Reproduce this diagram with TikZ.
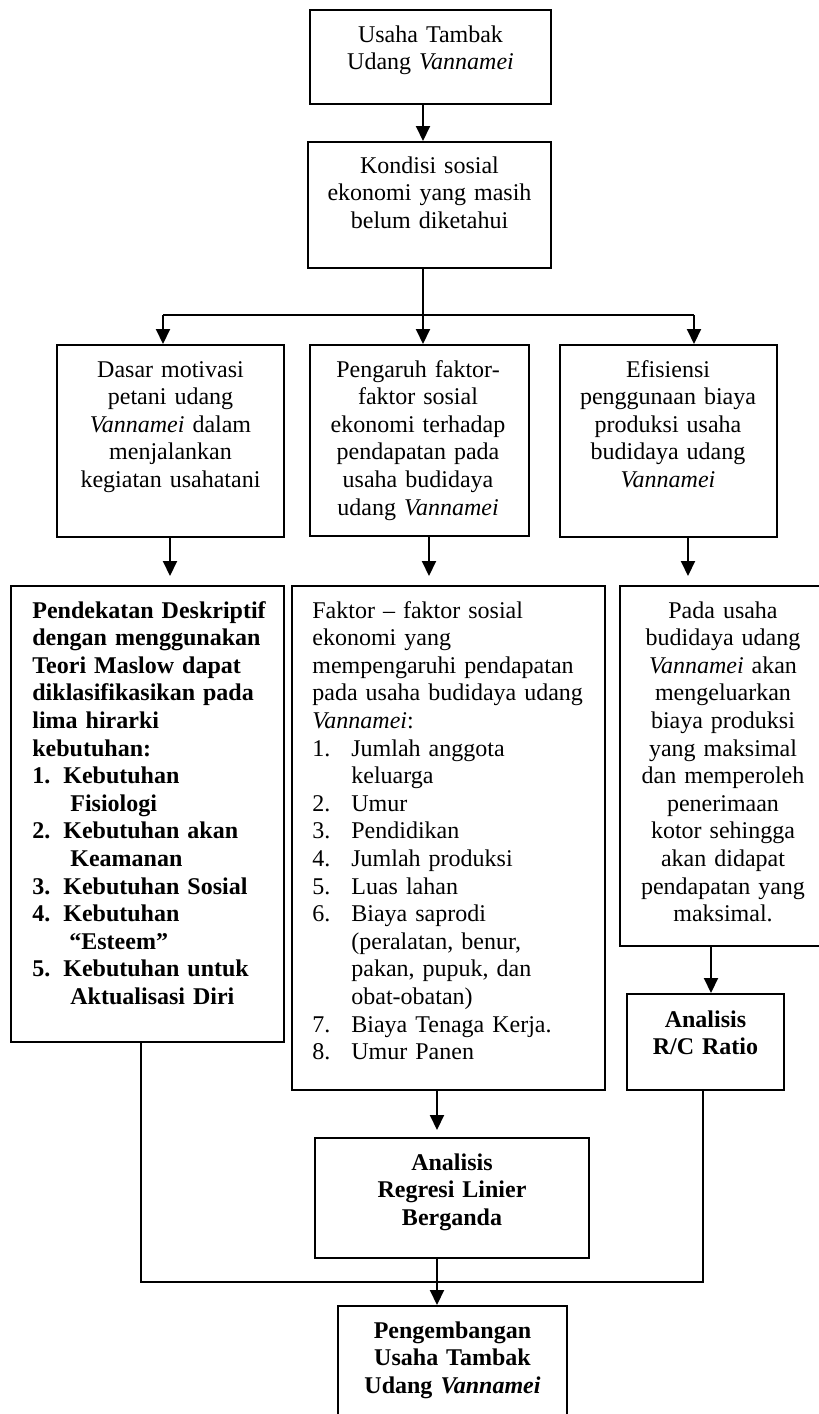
\documentclass[tikz,border=0pt]{standalone}
\usepackage{fontspec}
\setmainfont{Liberation Serif}
\usetikzlibrary{arrows.meta}
\begin{document}
\begin{tikzpicture}[x=0.5pt,y=-0.5pt,
  font=\fontsize{12}{13.8}\selectfont,
  box/.style={draw, line width=1pt, inner sep=0pt},
  ctext/.style={inner sep=0pt, align=center, anchor=base},
  ltext/.style={inner sep=0pt, align=left, anchor=base west},
  arr/.style={line width=1pt, -{Triangle[width=7pt,length=7.5pt]}},
  link/.style={line width=0.8pt},
]
\useasboundingbox (0,0) rectangle (819,1414);
\fill[white] (0,0) rectangle (819,1414);

% boxes
\node[box, minimum width=120.5pt, minimum height=47pt] (b1) at (430.5,57) {};
\node[box, minimum width=121.5pt, minimum height=63pt] (b2) at (429.5,205) {};
\node[box, minimum width=113.5pt, minimum height=96pt] (L1) at (170.5,441) {};
\node[box, minimum width=109.5pt, minimum height=95.5pt] (M1) at (419.5,440.5) {};
\node[box, minimum width=108.5pt, minimum height=96pt] (R1) at (668.5,441) {};
\node[box, minimum width=136.5pt, minimum height=228pt] (L2) at (147.5,814) {};
\node[box, minimum width=156.5pt, minimum height=252pt] (M2) at (448.5,838) {};
\node[box, minimum width=103pt, minimum height=180pt] (R2) at (723,766) {};
\node[box, minimum width=78.5pt, minimum height=48pt] (R3) at (705.5,1042) {};
\node[box, minimum width=137pt, minimum height=60pt] (M3) at (452,1198) {};
\node[box, minimum width=114.5pt, minimum height=62pt] (M4) at (452.5,1368) {};

% texts
\node[ctext, text width=120pt] (t1) at (430.5,42) {Usaha Tambak\\Udang \textit{Vannamei}};
\node[ctext, text width=120pt] (t2) at (429.5,173) {Kondisi sosial\\ekonomi yang masih\\belum diketahui};
\node[ctext, text width=110pt] (tL1) at (170.5,377) {Dasar motivasi\\petani udang\\\textit{Vannamei} dalam\\menjalankan\\kegiatan usahatani};
\node[ctext, text width=110pt] (tM1) at (418,377) {Pengaruh faktor-\\faktor sosial\\ekonomi terhadap\\pendapatan pada\\usaha budidaya\\udang \textit{Vannamei}};
\node[ctext, text width=110pt] (tR1) at (668,377) {Efisiensi\\penggunaan biaya\\produksi usaha\\budidaya udang\\\textit{Vannamei}};
\node[ltext, text width=135pt, font=\fontsize{12}{13.8}\selectfont\bfseries] (tL2) at (32,618) {Pendekatan Deskriptif\\
dengan menggunakan\\
Teori Maslow dapat\\
diklasifikasikan pada\\
lima hirarki\\
kebutuhan:\\
\makebox[15.5pt][l]{1.}Kebutuhan\\
\hspace*{19pt}Fisiologi\\
\makebox[15.5pt][l]{2.}Kebutuhan akan\\
\hspace*{19pt}Keamanan\\
\makebox[15.5pt][l]{3.}Kebutuhan Sosial\\
\makebox[15.5pt][l]{4.}Kebutuhan\\
\hspace*{18.5pt}“Esteem”\\
\makebox[15.5pt][l]{5.}Kebutuhan untuk\\
\hspace*{19pt}Aktualisasi Diri};
\node[ltext, text width=150pt] (tM2) at (312,618) {Faktor – faktor sosial\\
ekonomi yang\\
mempengaruhi pendapatan\\
pada usaha budidaya udang\\
\textit{Vannamei}:\\
\makebox[19.5pt][l]{1.}Jumlah anggota\\
\hspace*{19.5pt}keluarga\\
\makebox[19.5pt][l]{2.}Umur\\
\makebox[19.5pt][l]{3.}Pendidikan\\
\makebox[19.5pt][l]{4.}Jumlah produksi\\
\makebox[19.5pt][l]{5.}Luas lahan\\
\makebox[19.5pt][l]{6.}Biaya saprodi\\
\hspace*{19.5pt}(peralatan, benur,\\
\hspace*{19.5pt}pakan, pupuk, dan\\
\hspace*{19.5pt}obat-obatan)\\
\makebox[19.5pt][l]{7.}Biaya Tenaga Kerja.\\
\makebox[19.5pt][l]{8.}Umur Panen};
\node[ctext, text width=110pt] (tR2) at (723,618) {Pada usaha\\budidaya udang\\\textit{Vannamei} akan\\mengeluarkan\\biaya produksi\\yang maksimal\\dan memperoleh\\penerimaan\\kotor sehingga\\akan didapat\\pendapatan yang\\maksimal.};
\node[ctext, text width=80pt, font=\fontsize{12}{13.8}\selectfont\bfseries] (tR3) at (705.5,1027) {Analisis\\R/C Ratio};
\node[ctext, text width=120pt, font=\fontsize{12}{13.8}\selectfont\bfseries] (tM3) at (452,1170) {Analisis\\Regresi Linier\\Berganda};
\node[ctext, text width=110pt, font=\fontsize{12}{13.8}\selectfont\bfseries] (tM4) at (452.5,1338) {Pengembangan\\Usaha Tambak\\Udang \textit{Vannamei}};

% junction coordinates
\coordinate (jl) at (163,315);
\coordinate (jr) at (694,315);
\coordinate (jb1) at (141,1282);
\coordinate (jb2) at (703,1282);

% connectors
\draw[arr] ([xshift=-3.75pt]b1.south) -- ([xshift=-3.25pt]b2.north);
\draw[arr] ([xshift=-3.25pt]b2.south) -- ([xshift=1.75pt]M1.north);
\draw[line width=1pt] (jl) -- (jr);
\draw[arr] (jl) -- (L1.north -| jl);
\draw[arr] (jr) -- (R1.north -| jr);
\draw[arr, shorten >=4.5pt] ([xshift=-0.25pt]L1.south) -- ([xshift=11.25pt]L2.north);
\draw[arr, shorten >=4.5pt] ([xshift=4.75pt]M1.south) -- ([xshift=-9.75pt]M2.north);
\draw[arr, shorten >=4.5pt] ([xshift=9.75pt]R1.south) -- ([xshift=-17.5pt]R2.north);
\draw[arr] ([xshift=-6pt]R2.south) -- ([xshift=2.75pt]R3.north);
\draw[arr, shorten >=3.5pt] ([xshift=-5.75pt]M2.south) -- ([xshift=-7.5pt]M3.north);
\draw[link] ([xshift=-3.25pt]L2.south) -- (jb1) -- (jb2) -- ([xshift=-1.25pt]R3.south);
\draw[arr] ([xshift=-7.5pt]M3.south) -- ([xshift=-7.75pt]M4.north);
\end{tikzpicture}
\end{document}
